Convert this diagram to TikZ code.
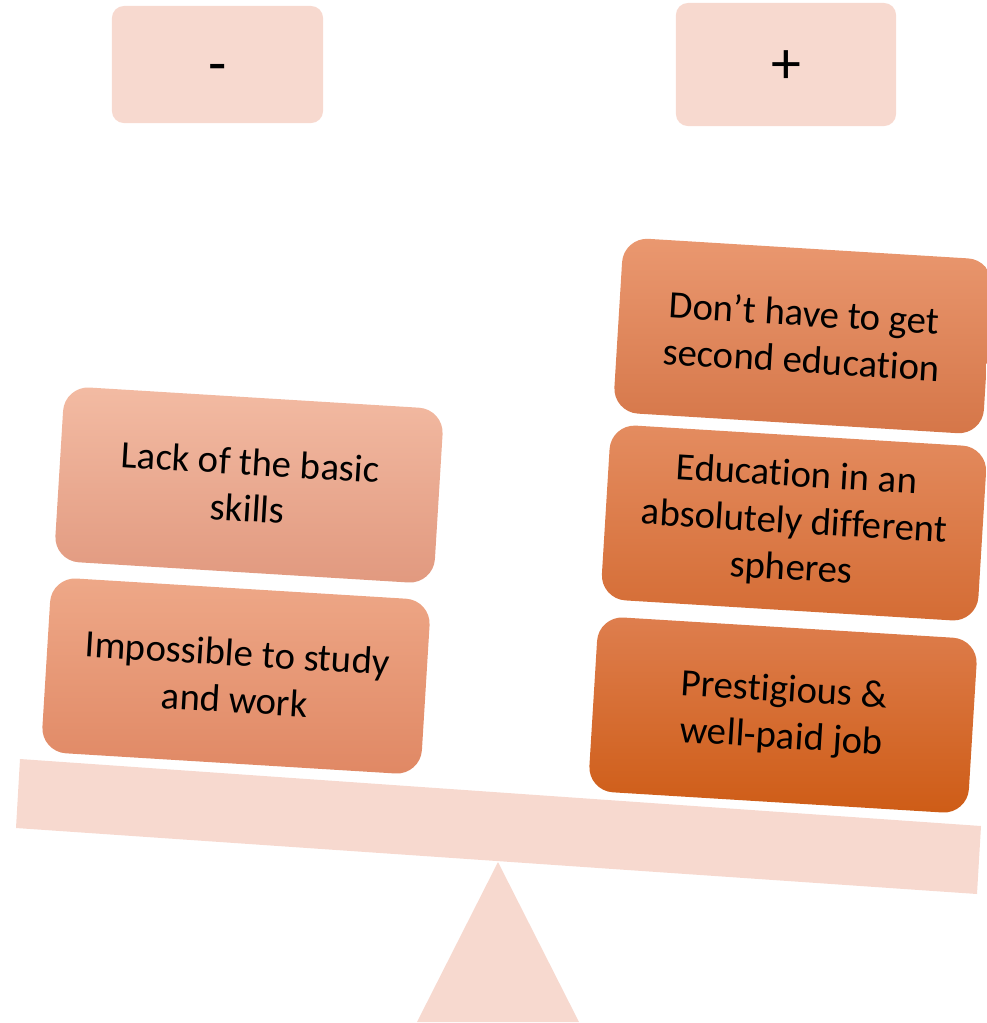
\documentclass[tikz,border=0pt]{standalone}
\usepackage{fontspec}
\setmainfont[Ligatures=NoCommon]{Carlito}
\definecolor{lightpink}{RGB}{247,217,207}
\definecolor{lt1}{RGB}{243,187,163}
\definecolor{lb1}{RGB}{225,153,127}
\definecolor{lt2}{RGB}{238,168,136}
\definecolor{lb2}{RGB}{224,136,100}
\definecolor{rt1}{RGB}{234,152,112}
\definecolor{rb1}{RGB}{213,118,72}
\definecolor{rt2}{RGB}{228,140,96}
\definecolor{rb2}{RGB}{212,108,52}
\definecolor{rt3}{RGB}{222,126,78}
\definecolor{rb3}{RGB}{206,92,22}
\tikzset{
  signbox/.style={fill=lightpink, rounded corners=0.12cm, minimum width=2.11cm, minimum height=1.17cm,
    font=\fontsize{17pt}{19pt}\selectfont},
  argbox/.style={rounded corners=0.25cm, minimum width=3.8cm, minimum height=1.75cm, align=center,
    rotate=-3.5, font=\fontsize{11pt}{13.3pt}\selectfont, inner sep=2pt},
}
\begin{document}
\begin{tikzpicture}[x=0.01cm,y=-0.01cm]
\useasboundingbox (0,0) rectangle (987,1023);
% sign boxes
\node[signbox] (minus) at (217.5,64.5) {\raisebox{-5.5pt}[0pt][0pt]{-}};
\node[signbox, minimum width=2.2cm, minimum height=1.23cm] (plus) at (786,64.5) {\raisebox{-5.5pt}[0pt][0pt]{+}};
% beam
\fill[lightpink] (20,759) -- (981,826) -- (977,894) -- (16,828) -- cycle;
% fulcrum
\fill[lightpink] (498,862) -- (579,1022) -- (417,1022) -- cycle;
% left boxes
\node[argbox, top color=lt1, bottom color=lb1] (lack) at (249,485) {Lack of the basic\\skills};
\node[argbox, top color=lt2, bottom color=lb2] (imp) at (236,676) {Impossible to study\\and work};
% right boxes
\node[argbox, minimum width=3.7cm, top color=rt1, bottom color=rb1] (dont) at (803,336) {Don’t have to get\\second education};
\node[argbox, minimum width=3.77cm, top color=rt2, bottom color=rb2] (edu) at (794,523) {Education in an\\absolutely different\\spheres};
\node[argbox, minimum width=3.8cm, top color=rt3, bottom color=rb3] (pres) at (783,715) {Prestigious \&\\well-paid job};
\end{tikzpicture}
\end{document}
